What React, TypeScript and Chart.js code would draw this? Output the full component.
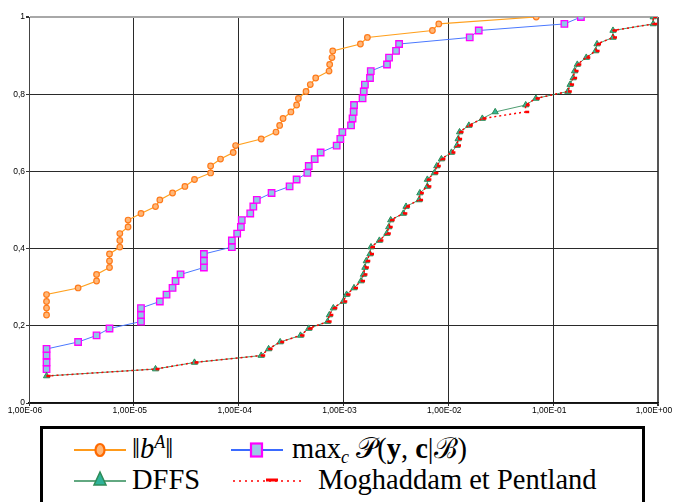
import React, { useEffect, useRef } from "react";
import { Chart, registerables } from "chart.js";

Chart.register(...registerables);

// ---- data ----
const bA_x = [1.47e-6, 1.47e-6, 1.47e-6, 1.47e-6, 2.94e-6, 4.41e-6, 4.41e-6, 5.86e-6, 5.86e-6, 5.86e-6, 7.35e-6, 7.35e-6, 7.35e-6, 8.81e-6, 8.81e-6, 1.17e-5, 1.61e-5, 1.77e-5, 2.34e-5, 3.07e-5, 3.79e-5, 5.4e-5, 5.4e-5, 6.71e-5, 8.87e-5, 9.35e-5, 1.64e-4, 2.27e-4, 2.46e-4, 2.65e-4, 3.15e-4, 3.57e-4, 3.71e-4, 4.39e-4, 4.82e-4, 5.43e-4, 7.28e-4, 7.38e-4, 7.76e-4, 7.89e-4, 1.45e-3, 1.69e-3, 7.05e-3, 8.11e-3, 6.89e-2];
const bA_y = [0.228, 0.246, 0.263, 0.281, 0.298, 0.316, 0.333, 0.351, 0.368, 0.386, 0.404, 0.421, 0.439, 0.456, 0.474, 0.491, 0.509, 0.526, 0.544, 0.561, 0.579, 0.596, 0.614, 0.632, 0.649, 0.667, 0.684, 0.702, 0.719, 0.737, 0.754, 0.772, 0.789, 0.807, 0.825, 0.842, 0.86, 0.877, 0.895, 0.912, 0.93, 0.947, 0.965, 0.982, 1.0];

const maxP_x = [1.47e-6, 1.47e-6, 1.47e-6, 1.47e-6, 2.94e-6, 4.41e-6, 5.86e-6, 1.17e-5, 1.17e-5, 1.17e-5, 1.77e-5, 2.05e-5, 2.34e-5, 2.5e-5, 2.79e-5, 4.66e-5, 4.66e-5, 4.66e-5, 8.61e-5, 8.61e-5, 9.68e-5, 1.05e-4, 1.07e-4, 1.29e-4, 1.38e-4, 1.49e-4, 2.06e-4, 3.06e-4, 3.57e-4, 4.52e-4, 4.66e-4, 5.31e-4, 6.05e-4, 8.61e-4, 9.33e-4, 9.75e-4, 1.18e-3, 1.22e-3, 1.25e-3, 1.26e-3, 1.52e-3, 1.56e-3, 1.6e-3, 1.79e-3, 1.82e-3, 2.6e-3, 2.72e-3, 3.17e-3, 3.39e-3, 1.6e-2, 1.95e-2, 1.28e-1, 1.84e-1];
const maxP_y = [0.088, 0.105, 0.123, 0.14, 0.158, 0.175, 0.193, 0.211, 0.228, 0.246, 0.263, 0.281, 0.298, 0.316, 0.333, 0.351, 0.368, 0.386, 0.404, 0.421, 0.439, 0.456, 0.474, 0.491, 0.509, 0.526, 0.544, 0.561, 0.579, 0.596, 0.614, 0.632, 0.649, 0.667, 0.684, 0.702, 0.719, 0.737, 0.754, 0.772, 0.789, 0.807, 0.825, 0.842, 0.86, 0.877, 0.895, 0.912, 0.93, 0.947, 0.965, 0.982, 1.0];

const dffs_x = [1.47e-6, 1.61e-5, 3.79e-5, 1.64e-4, 1.93e-4, 2.49e-4, 3.89e-4, 4.66e-4, 7.06e-4, 7.33e-4, 8.0e-4, 9.95e-4, 1.07e-3, 1.26e-3, 1.47e-3, 1.55e-3, 1.6e-3, 1.65e-3, 1.79e-3, 1.83e-3, 2.2e-3, 2.59e-3, 2.7e-3, 2.82e-3, 3.72e-3, 3.95e-3, 5.26e-3, 5.35e-3, 6.31e-3, 6.31e-3, 7.36e-3, 7.76e-3, 8.59e-3, 1.07e-2, 1.21e-2, 1.24e-2, 1.28e-2, 1.57e-2, 2.11e-2, 2.8e-2, 5.47e-2, 6.84e-2, 1.38e-1, 1.45e-1, 1.55e-1, 1.6e-1, 1.7e-1, 2.07e-1, 2.54e-1, 2.62e-1, 3.72e-1, 3.72e-1, 9.0e-1, 9.0e-1];
const dffs_y = [0.07, 0.088, 0.105, 0.123, 0.14, 0.158, 0.175, 0.193, 0.211, 0.228, 0.246, 0.263, 0.281, 0.298, 0.316, 0.333, 0.351, 0.368, 0.386, 0.404, 0.421, 0.439, 0.456, 0.474, 0.491, 0.509, 0.526, 0.544, 0.561, 0.579, 0.596, 0.614, 0.632, 0.649, 0.667, 0.684, 0.702, 0.719, 0.737, 0.754, 0.772, 0.789, 0.807, 0.825, 0.842, 0.86, 0.877, 0.895, 0.912, 0.93, 0.947, 0.965, 0.982, 1.0];

const mp_x = [1.47e-6, 1.61e-5, 3.79e-5, 1.64e-4, 1.93e-4, 2.49e-4, 3.89e-4, 4.66e-4, 7.06e-4, 7.33e-4, 8.0e-4, 9.95e-4, 1.07e-3, 1.26e-3, 1.47e-3, 1.55e-3, 1.6e-3, 1.65e-3, 1.79e-3, 1.83e-3, 2.2e-3, 2.59e-3, 2.7e-3, 2.82e-3, 3.72e-3, 3.95e-3, 5.26e-3, 5.35e-3, 6.31e-3, 6.31e-3, 7.36e-3, 7.76e-3, 8.59e-3, 1.07e-2, 1.21e-2, 1.24e-2, 1.28e-2, 1.57e-2, 2.11e-2, 5.41e-2, 5.47e-2, 6.84e-2, 1.38e-1, 1.45e-1, 1.55e-1, 1.6e-1, 1.7e-1, 2.07e-1, 2.54e-1, 2.62e-1, 3.72e-1, 3.72e-1, 9.0e-1, 9.0e-1];
const mp_y = [0.07, 0.088, 0.105, 0.123, 0.14, 0.158, 0.175, 0.193, 0.211, 0.228, 0.246, 0.263, 0.281, 0.298, 0.316, 0.333, 0.351, 0.368, 0.386, 0.404, 0.421, 0.439, 0.456, 0.474, 0.491, 0.509, 0.526, 0.544, 0.561, 0.579, 0.596, 0.614, 0.632, 0.649, 0.667, 0.684, 0.702, 0.719, 0.737, 0.754, 0.772, 0.789, 0.807, 0.825, 0.842, 0.86, 0.877, 0.895, 0.912, 0.93, 0.947, 0.965, 0.982, 1.0];

const X_TICKS = [1e-6, 1e-5, 1e-4, 1e-3, 1e-2, 1e-1, 1];
const Y_TICKS = [0, 0.2, 0.4, 0.6, 0.8, 1];

const pts = (xs: number[], ys: number[]) => xs.map((x, i) => ({ x, y: ys[i] }));

const fmtX = (v: number) => {
  const e = Math.round(Math.log10(v));
  return `1,00E${e < 0 ? "-" : "+"}${String(Math.abs(e)).padStart(2, "0")}`;
};
const fmtY = (v: number) => (v === 0 ? "0" : v === 1 ? "1" : v.toFixed(1).replace(".", ","));

const TICK_FONT = { family: "'Liberation Sans', Arial, sans-serif", size: 8.5 };

function ChartCanvas() {
  const ref = useRef<HTMLCanvasElement | null>(null);
  useEffect(() => {
    if (!ref.current) return;
    const chart = new Chart(ref.current, {
      type: "line",
      data: {
        datasets: [
          {
            label: "Moghaddam et Pentland",
            data: pts(mp_x, mp_y),
            borderColor: "#ff0000",
            borderWidth: 1.5,
            borderDash: [2, 3],
            pointStyle: "dash",
            pointRadius: 4,
            pointBorderWidth: 2.5,
            pointBorderColor: "#ff0000",
            pointBackgroundColor: "#ff0000",
            order: 0,
          },
          {
            label: "DFFS",
            data: pts(dffs_x, dffs_y),
            borderColor: "rgba(46,139,87,0.85)",
            borderWidth: 1,
            pointStyle: "triangle",
            pointRadius: 3.6,
            pointBorderWidth: 1,
            pointBorderColor: "#2e8b57",
            pointBackgroundColor: "#35b596",
            order: 1,
          },
          {
            label: "max",
            data: pts(maxP_x, maxP_y),
            borderColor: "#4a78ff",
            borderWidth: 1,
            pointStyle: "rect",
            pointRadius: 4.6,
            pointBorderWidth: 1.3,
            pointBorderColor: "#ff00ff",
            pointBackgroundColor: "#8ec9e6",
            order: 2,
          },
          {
            label: "bA",
            data: pts(bA_x, bA_y),
            borderColor: "#ffa01e",
            borderWidth: 1.2,
            pointStyle: "circle",
            pointRadius: 2.8,
            pointBorderWidth: 1.2,
            pointBorderColor: "#ff7a1a",
            pointBackgroundColor: "#ffb778",
            order: 3,
          },
        ],
      },
      options: {
        responsive: false,
        animation: false,
        events: [],
        layout: { padding: { top: 17, right: 19, left: 0, bottom: 0 } },
        plugins: { legend: { display: false }, tooltip: { enabled: false } },
        elements: { line: { tension: 0 } },
        scales: {
          x: {
            type: "logarithmic",
            min: 1e-6,
            max: 1,
            afterBuildTicks: (s: any) => {
              s.ticks = X_TICKS.map((value) => ({ value }));
            },
            afterFit: (s: any) => {
              s.height = 22;
            },
            ticks: {
              autoSkip: false,
              maxRotation: 0,
              minRotation: 0,
              padding: 0,
              labelOffset: -4,
              color: "#000",
              font: TICK_FONT,
              callback: (v: any) => fmtX(Number(v)),
            },
            grid: {
              color: (c: any) => (c.tick && c.tick.value === 1 ? "#555" : "#2a2a2a"),
              lineWidth: (c: any) => (c.tick && c.tick.value === 1 ? 2 : 1),
              tickLength: 3,
              tickColor: "#333",
            },
            border: { color: "#111", width: 1.5 },
          },
          y: {
            type: "linear",
            min: 0,
            max: 1,
            afterBuildTicks: (s: any) => {
              s.ticks = Y_TICKS.map((value) => ({ value }));
            },
            afterFit: (s: any) => {
              s.width = 29;
            },
            ticks: {
              autoSkip: false,
              padding: 1,
              color: "#000",
              font: TICK_FONT,
              callback: (v: any) => fmtY(Number(v)),
            },
            grid: {
              color: (c: any) => (c.tick && c.tick.value === 1 ? "#a8a8a8" : "#2a2a2a"),
              lineWidth: (c: any) => (c.tick && c.tick.value === 1 ? 2 : 1),
              tickLength: 3,
              tickColor: "#333",
            },
            border: { color: "#444", width: 1 },
          },
        },
      },
    } as any);
    return () => chart.destroy();
  }, []);
  return <canvas ref={ref} width={677} height={425} style={{ position: "absolute", left: 0, top: 0, width: 677, height: 425 }} />;
}

const serif = "'Liberation Serif', 'DejaVu Serif', serif";

function LegendIcon({ kind }: { kind: string }) {
  if (kind === "bA")
    return (
      <svg width="52" height="20">
        <line x1="0" y1="10" x2="52" y2="10" stroke="#ff9a1a" strokeWidth="2" />
        <ellipse cx="26" cy="10" rx="4.5" ry="6" fill="#ffb778" stroke="#ff6a00" strokeWidth="2.2" />
      </svg>
    );
  if (kind === "max")
    return (
      <svg width="52" height="20">
        <line x1="0" y1="10" x2="52" y2="10" stroke="#3a6aff" strokeWidth="2" />
        <rect x="20" y="3.5" width="11" height="13" fill="#9dc8e8" stroke="#ff00ff" strokeWidth="2.2" />
      </svg>
    );
  if (kind === "dffs")
    return (
      <svg width="52" height="20">
        <line x1="0" y1="12" x2="52" y2="12" stroke="#2e8b57" strokeWidth="1.5" />
        <polygon points="26,3 32,16 20,16" fill="#2fb39a" stroke="#2e8b57" strokeWidth="1.5" />
      </svg>
    );
  return (
    <svg width="70" height="20">
      <line x1="0" y1="11" x2="70" y2="11" stroke="#ff0000" strokeWidth="1.6" strokeDasharray="2 4" />
      <line x1="33" y1="10" x2="45" y2="10" stroke="#ff0000" strokeWidth="3" />
    </svg>
  );
}

function Legend() {
  const text: React.CSSProperties = {
    position: "absolute",
    fontFamily: serif,
    fontSize: 28.5,
    lineHeight: "30px",
    color: "#000",
    whiteSpace: "nowrap",
  };
  const icon: React.CSSProperties = { position: "absolute" };
  return (
    <div style={{ position: "absolute", left: 0, top: 0, width: 677, height: 502 }}>
      <div
        style={{
          position: "absolute",
          left: 40,
          top: 426,
          width: 605,
          height: 110,
          border: "3px solid #000",
          boxSizing: "border-box",
          background: "#fff",
        }}
      />
      <div style={{ ...icon, left: 74, top: 440 }}><LegendIcon kind="bA" /></div>
      <div style={{ ...text, left: 132, top: 434 }}>
        ‖<i>b</i>
        <sup style={{ fontSize: 18, verticalAlign: 0, position: "relative", top: -10 }}><i>A</i></sup>‖
      </div>
      <div style={{ ...icon, left: 231, top: 440 }}><LegendIcon kind="max" /></div>
      <div style={{ ...text, left: 292, top: 434 }}>
        max<sub style={{ fontSize: 18, verticalAlign: 0, position: "relative", top: 5 }}><i>c</i></sub>{" "}
        <span>𝒫</span>(<b>y</b>, <b>c</b>|ℬ)
      </div>
      <div style={{ ...icon, left: 74, top: 469 }}><LegendIcon kind="dffs" /></div>
      <div style={{ ...text, left: 132, top: 465 }}>DFFS</div>
      <div style={{ ...icon, left: 233, top: 470 }}><LegendIcon kind="mp" /></div>
      <div style={{ ...text, left: 318, top: 465 }}>Moghaddam et Pentland</div>
    </div>
  );
}

export default function App() {
  return (
    <div style={{ position: "fixed", left: 0, top: 0, width: 677, height: 502, overflow: "hidden", background: "#fff" }}>
      <ChartCanvas />
      <Legend />
    </div>
  );
}
